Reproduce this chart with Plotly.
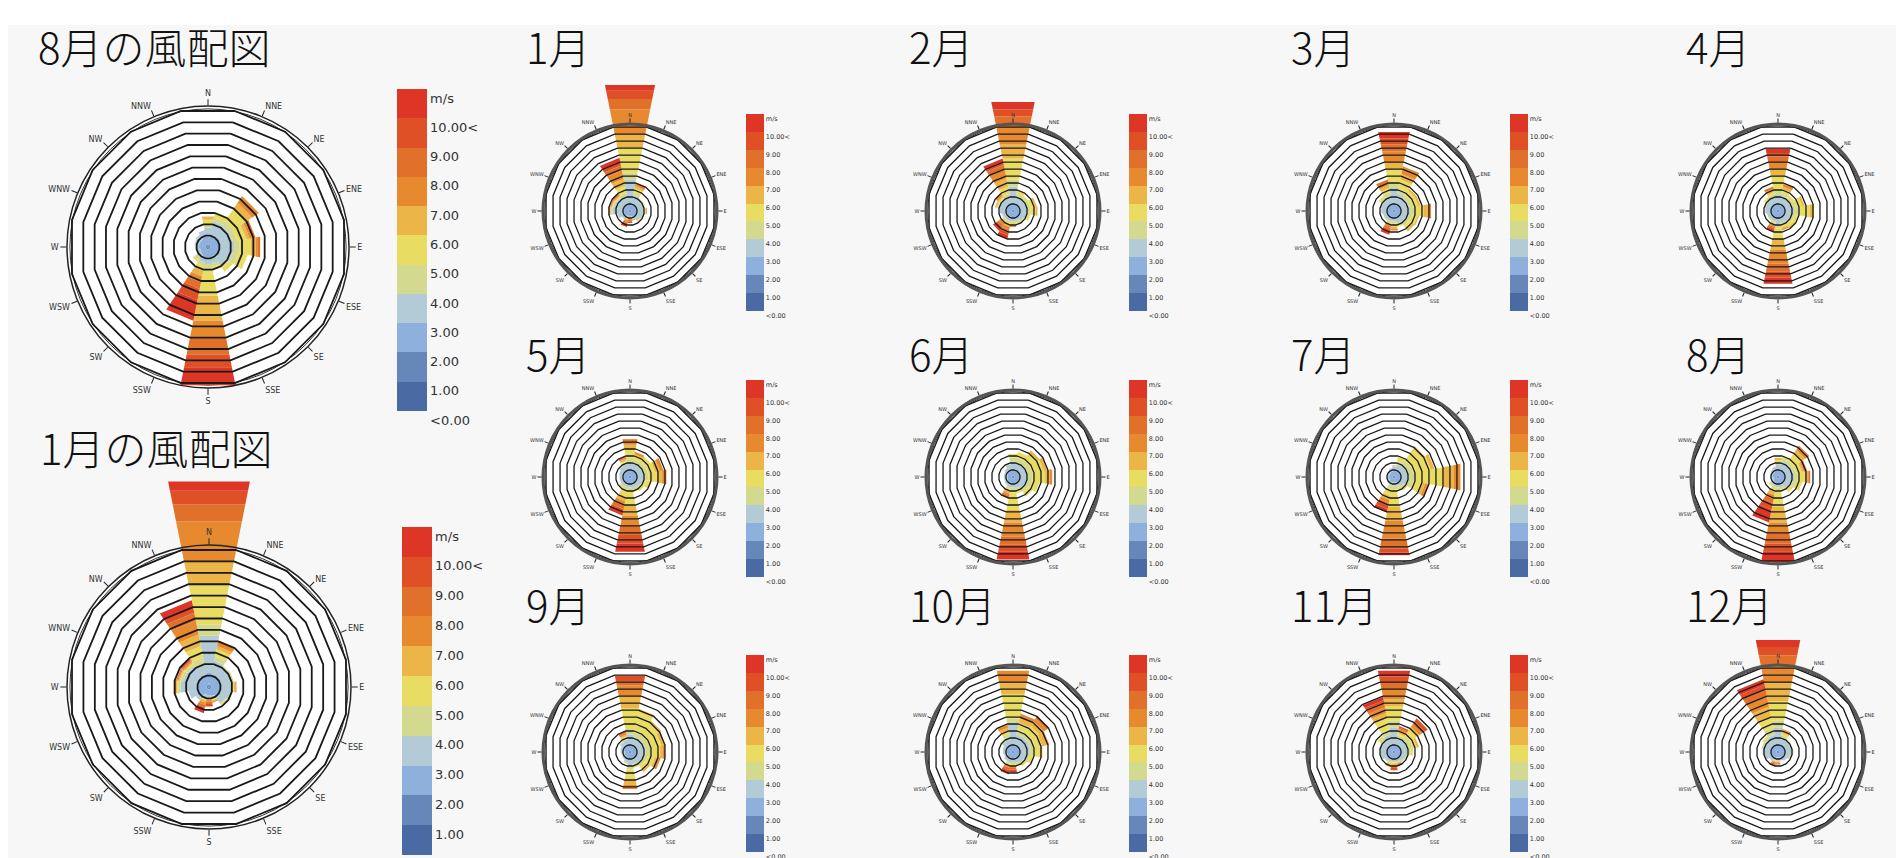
import plotly.graph_objects as go

FIG_W, FIG_H = 1904, 858
PAGE_OFFSET = 8  # the page body shifts the figure by this many pixels

# ---------------- data ----------------
DIRECTIONS = ["N", "NNE", "NE", "ENE", "E", "ESE", "SE", "SSE",
              "S", "SSW", "SW", "WSW", "W", "WNW", "NW", "NNW"]
CARDINALS = ["N", "E", "S", "W"]
SPEED_COLORS = ["#4a6aa3", "#6687ba", "#8eb0dd", "#b3cbd7", "#d3d98f", "#e9dc63",
                "#ebb547", "#e6892f", "#e1702a", "#df5026", "#dd3526"]
SPEED_LABELS = ["<0.00", "1.00", "2.00", "3.00", "4.00", "5.00", "6.00",
                "7.00", "8.00", "9.00", "10.00<", "m/s"]
RING_LEVELS = [1, 2, 3, 4, 5, 6, 7, 8, 9, 10, 11, 12]
R_MAX = 12.2
R_EXT = 19.0
OUTER_RING = 11.95

# frequency per speed class (0-1, 1-2, ... 9-10, 10< m/s), one ring = one unit
JAN = {
    "N": [0.1, 0.2, 1.0, 3.2, 1.0, 3.5, 2.0, 3.5, 1.5, 1.2, 0.8],
    "NNE": [0.05, 0.15, 0.8, 1.3, 0.4, 0.6, 0.3, 0.5],
    "NE": [0.05, 0.15, 0.8, 1.0, 0.2],
    "ENE": [0.05, 0.15, 0.8, 1.0, 0.1, 0.1],
    "E": [0.05, 0.15, 0.8, 1.0, 0.1, 0.1, 0.1, 0.1],
    "ESE": [0.05, 0.15, 0.8, 0.9, 0.2],
    "SE": [0.05, 0.15, 0.7, 0.8, 0.1, 0.1],
    "SSE": [0.05, 0.15, 0.6, 0.3, 0.0, 0.1, 0.1, 0.1],
    "S": [0.05, 0.15, 0.5, 0.2, 0.0, 0.1, 0.1, 0.2, 0.2, 0.2],
    "SSW": [0.05, 0.15, 0.5, 0.3, 0.1, 0.1, 0.2, 0.2, 0.2, 0.2, 0.3],
    "SW": [0.05, 0.15, 0.7, 0.5],
    "WSW": [0.05, 0.15, 0.8, 0.8],
    "W": [0.05, 0.15, 0.9, 1.4, 0.2, 0.1, 0.1, 0.2],
    "WNW": [0.05, 0.15, 0.8, 1.3, 0.2, 0.1, 0.1, 0.1, 0.1],
    "NW": [0.05, 0.15, 0.8, 1.2, 0.2, 0.1, 0.1, 0.1, 0.1, 0.2],
    "NNW": [0.05, 0.15, 0.8, 1.0, 0.6, 1.0, 1.0, 1.2, 0.7, 0.5, 0.6],
}
FEB = {
    "N": [0.05, 0.15, 0.8, 2.5, 1.0, 3.0, 2.0, 2.5, 1.5, 1.0, 1.1],
    "NNE": [0.05, 0.15, 0.8, 1.2, 0.3, 0.4, 0.2],
    "NE": [0.05, 0.15, 0.8, 1.0, 0.3, 0.3],
    "ENE": [0.05, 0.15, 0.8, 1.0, 0.5, 0.6, 0.3],
    "E": [0.05, 0.15, 0.8, 1.0, 0.5, 0.7, 0.3],
    "ESE": [0.05, 0.15, 0.8, 0.9, 0.3, 0.3],
    "SE": [0.05, 0.15, 0.7, 0.8, 0.2, 0.2],
    "SSE": [0.05, 0.15, 0.7, 0.6, 0.2, 0.2, 0.1],
    "S": [0.05, 0.15, 0.7, 0.6, 0.2, 0.2, 0.2, 0.2],
    "SSW": [0.05, 0.15, 0.7, 0.6, 0.2, 0.3, 0.3, 0.4, 0.4, 0.4, 0.5],
    "SW": [0.05, 0.15, 0.7, 0.6, 0.2, 0.2, 0.2, 0.3, 0.3, 0.3, 0.4],
    "WSW": [0.05, 0.15, 0.7, 0.7],
    "W": [0.05, 0.15, 0.8, 0.9],
    "WNW": [0.05, 0.15, 0.8, 1.0, 0.2, 0.2, 0.2],
    "NW": [0.05, 0.15, 0.8, 1.0, 0.2, 0.2, 0.2, 0.2, 0.2],
    "NNW": [0.05, 0.15, 0.8, 1.0, 0.5, 1.0, 1.2, 1.3, 0.6, 0.4, 0.5],
}
MAR = {
    "N": [0.05, 0.15, 0.8, 2.3, 0.7, 2.0, 1.0, 1.5, 1.0, 0.9, 0.9],
    "NNE": [0.05, 0.15, 0.8, 1.5, 0.7, 1.3, 0.8, 1.1],
    "NE": [0.05, 0.15, 0.8, 1.2, 0.5, 0.8, 0.3],
    "ENE": [0.05, 0.15, 0.8, 1.2, 0.5, 0.8, 0.3],
    "E": [0.05, 0.15, 0.8, 1.3, 0.7, 1.2, 0.6, 0.5],
    "ESE": [0.05, 0.15, 0.8, 1.1, 0.5, 0.8, 0.2],
    "SE": [0.05, 0.15, 0.8, 1.0, 0.5, 0.7, 0.3],
    "SSE": [0.05, 0.15, 0.7, 0.8, 0.3, 0.3],
    "S": [0.05, 0.15, 0.7, 0.6, 0.3, 0.4, 0.3, 0.3],
    "SSW": [0.05, 0.15, 0.7, 0.6, 0.2, 0.2, 0.2, 0.3, 0.3, 0.3, 0.4],
    "SW": [0.05, 0.15, 0.7, 0.6, 0.2],
    "WSW": [0.05, 0.15, 0.7, 0.7],
    "W": [0.05, 0.15, 0.8, 0.8],
    "WNW": [0.05, 0.15, 0.8, 0.9, 0.2],
    "NW": [0.05, 0.15, 0.8, 1.0, 0.3, 0.3],
    "NNW": [0.05, 0.15, 0.8, 1.2, 0.5, 0.6, 0.4, 0.3, 0.5],
}
APR = {
    "N": [0.05, 0.15, 0.8, 1.3, 0.7, 2.0, 1.0, 1.0, 0.8, 0.5, 0.6],
    "NNE": [0.05, 0.15, 0.8, 1.2, 0.4, 0.5, 0.4, 0.5],
    "NE": [0.05, 0.15, 0.8, 1.0, 0.3, 0.4],
    "ENE": [0.05, 0.15, 0.8, 1.1, 0.5, 0.9, 0.3],
    "E": [0.05, 0.15, 0.8, 1.3, 0.7, 1.5, 0.65],
    "ESE": [0.05, 0.15, 0.8, 1.0, 0.4, 0.6],
    "SE": [0.05, 0.15, 0.8, 0.9, 0.3, 0.5, 0.3],
    "SSE": [0.05, 0.15, 0.7, 0.8, 0.3, 0.4, 0.2, 0.2],
    "S": [0.05, 0.15, 0.8, 1.0, 0.5, 1.5, 1.5, 2.0, 1.2, 0.8, 0.9],
    "SSW": [0.05, 0.15, 0.7, 0.6, 0.2, 0.2, 0.2, 0.2, 0.2, 0.2, 0.3],
    "SW": [0.05, 0.15, 0.7, 0.6, 0.2],
    "WSW": [0.05, 0.15, 0.7, 0.7],
    "W": [0.05, 0.15, 0.8, 0.8],
    "WNW": [0.05, 0.15, 0.8, 0.8, 0.2],
    "NW": [0.05, 0.15, 0.8, 0.9, 0.3, 0.2],
    "NNW": [0.05, 0.15, 0.8, 1.0, 0.4, 0.3, 0.3, 0.2, 0.3],
}
MAY = {
    "N": [0.05, 0.15, 0.8, 1.0, 0.8, 1.2, 0.6, 0.4, 0.4],
    "NNE": [0.05, 0.15, 0.8, 1.0, 0.5, 0.5, 0.3, 0.3],
    "NE": [0.05, 0.15, 0.8, 1.0, 0.6, 0.9],
    "ENE": [0.05, 0.15, 0.8, 1.0, 0.6, 1.0, 0.7, 0.5],
    "E": [0.05, 0.15, 0.8, 1.0, 0.6, 1.2, 0.8, 0.6],
    "ESE": [0.05, 0.15, 0.8, 0.9, 0.4, 0.5, 0.2],
    "SE": [0.05, 0.15, 0.7, 0.8, 0.3, 0.4],
    "SSE": [0.05, 0.15, 0.7, 0.7, 0.3, 0.3],
    "S": [0.05, 0.15, 0.7, 0.6, 0.5, 2.0, 1.5, 1.5, 1.3, 1.2, 1.2],
    "SSW": [0.05, 0.15, 0.7, 0.6, 0.5, 0.8, 0.7, 0.6, 0.5, 0.4, 0.5],
    "SW": [0.05, 0.15, 0.7, 0.6, 0.2, 0.2],
    "WSW": [0.05, 0.15, 0.7, 0.6],
    "W": [0.05, 0.15, 0.7, 0.6],
    "WNW": [0.05, 0.15, 0.7, 0.7],
    "NW": [0.05, 0.15, 0.8, 0.8, 0.2],
    "NNW": [0.05, 0.15, 0.8, 0.9, 0.3, 0.2, 0.2, 0.2, 0.2],
}
JUN = {
    "N": [0.05, 0.15, 0.8, 1.2, 0.6, 0.5],
    "NNE": [0.05, 0.15, 0.8, 1.0, 0.7, 0.9],
    "NE": [0.05, 0.15, 0.8, 1.0, 0.8, 1.3, 0.4],
    "ENE": [0.05, 0.15, 0.8, 1.0, 0.8, 1.6, 0.6],
    "E": [0.05, 0.15, 0.8, 1.0, 0.8, 1.8, 0.6, 0.4],
    "ESE": [0.05, 0.15, 0.8, 1.0, 0.8, 1.0],
    "SE": [0.05, 0.15, 0.8, 0.9, 0.6, 0.8],
    "SSE": [0.05, 0.15, 0.7, 0.7, 0.4, 0.4],
    "S": [0.05, 0.15, 0.7, 0.6, 0.7, 2.5, 1.8, 2.0, 1.2, 1.0, 1.1],
    "SSW": [0.05, 0.15, 0.7, 0.6, 0.3, 0.3, 0.3, 0.2, 0.2, 0.3],
    "SW": [0.05, 0.15, 0.7, 0.5],
    "WSW": [0.05, 0.15, 0.6, 0.5],
    "W": [0.05, 0.15, 0.6, 0.5],
    "WNW": [0.05, 0.15, 0.6, 0.5],
    "NW": [0.05, 0.15, 0.7, 0.6],
    "NNW": [0.05, 0.15, 0.8, 0.8, 0.2],
}
JUL = {
    "N": [0.05, 0.15, 0.7, 0.6, 0.2],
    "NNE": [0.05, 0.15, 0.8, 0.8, 0.5, 0.6],
    "NE": [0.05, 0.15, 0.8, 1.0, 0.8, 2.0, 0.4],
    "ENE": [0.05, 0.15, 0.8, 1.0, 0.8, 2.5, 0.5],
    "E": [0.05, 0.15, 0.8, 1.0, 1.0, 4.0, 1.5, 1.0],
    "ESE": [0.05, 0.15, 0.8, 1.0, 0.8, 1.3, 0.4, 0.3, 0.3],
    "SE": [0.05, 0.15, 0.7, 0.7, 0.3, 0.4],
    "SSE": [0.05, 0.15, 0.6, 0.5, 0.3, 0.3],
    "S": [0.05, 0.15, 0.6, 0.4, 0.6, 2.5, 2.0, 2.5, 1.4, 0.6, 0.4],
    "SSW": [0.05, 0.15, 0.6, 0.4, 0.5, 1.0, 0.6, 0.4, 0.4, 0.5, 0.5],
    "SW": [0.05, 0.15, 0.6, 0.4],
    "WSW": [0.05, 0.15, 0.5, 0.3],
    "W": [0.05, 0.15, 0.5, 0.3],
    "WNW": [0.05, 0.15, 0.5, 0.3],
    "NW": [0.05, 0.15, 0.5, 0.4],
    "NNW": [0.05, 0.15, 0.6, 0.5],
}
AUG = {
    "N": [0.05, 0.15, 0.7, 0.8, 0.3, 0.4, 0.3],
    "NNE": [0.05, 0.15, 0.8, 1.3, 0.3, 0.5],
    "NE": [0.05, 0.15, 0.8, 1.2, 0.5, 1.3, 0.6, 0.7],
    "ENE": [0.05, 0.15, 0.8, 1.2, 0.4, 0.8, 0.3, 0.2, 0.3],
    "E": [0.05, 0.15, 0.8, 1.3, 0.5, 1.0, 0.4, 0.2, 0.2],
    "ESE": [0.05, 0.15, 0.8, 1.2, 0.5, 0.8],
    "SE": [0.05, 0.15, 0.7, 1.0, 0.3, 0.4],
    "SSE": [0.05, 0.15, 0.7, 0.6, 0.3, 0.3],
    "S": [0.05, 0.15, 0.7, 0.6, 0.6, 2.2, 2.2, 1.5, 1.5, 1.1, 1.6],
    "SSW": [0.05, 0.15, 0.7, 0.5, 0.3, 0.4, 0.5, 0.5, 0.6, 1.0, 1.8],
    "SW": [0.05, 0.15, 0.6, 0.4, 0.2, 0.2],
    "WSW": [0.05, 0.15, 0.5, 0.3],
    "W": [0.05, 0.15, 0.6, 0.3],
    "WNW": [0.05, 0.15, 0.6, 0.4],
    "NW": [0.05, 0.15, 0.6, 0.5],
    "NNW": [0.05, 0.15, 0.7, 0.6],
}
SEP = {
    "N": [0.05, 0.15, 0.8, 1.5, 0.8, 3.0, 1.7, 1.5, 0.6, 0.8],
    "NNE": [0.05, 0.15, 0.8, 1.2, 0.8, 2.8, 0.4],
    "NE": [0.05, 0.15, 0.8, 1.2, 0.8, 2.0, 0.3],
    "ENE": [0.05, 0.15, 0.8, 1.2, 0.8, 1.5, 0.4, 0.2],
    "E": [0.05, 0.15, 0.8, 1.2, 0.8, 1.3, 0.4, 0.3],
    "ESE": [0.05, 0.15, 0.8, 1.0, 0.6, 1.0, 0.4, 0.4],
    "SE": [0.05, 0.15, 0.8, 1.0, 0.5, 0.6, 0.3],
    "SSE": [0.05, 0.15, 0.7, 0.8, 0.3, 0.3],
    "S": [0.05, 0.15, 0.8, 1.0, 0.5, 1.5, 0.7, 0.6],
    "SSW": [0.05, 0.15, 0.7, 0.6, 0.2],
    "SW": [0.05, 0.15, 0.6, 0.5],
    "WSW": [0.05, 0.15, 0.6, 0.4],
    "W": [0.05, 0.15, 0.6, 0.5],
    "WNW": [0.05, 0.15, 0.7, 0.5],
    "NW": [0.05, 0.15, 0.7, 0.7, 0.2],
    "NNW": [0.05, 0.15, 0.8, 0.8, 0.3, 0.2, 0.2, 0.2, 0.3],
}
OCT = {
    "N": [0.05, 0.15, 0.8, 3.0, 0.8, 3.5, 1.5, 1.8],
    "NNE": [0.05, 0.15, 0.8, 1.5, 0.7, 1.0, 0.6, 0.7],
    "NE": [0.05, 0.15, 0.8, 1.5, 0.7, 1.2, 0.8, 0.5, 0.4],
    "ENE": [0.05, 0.15, 0.8, 1.5, 0.7, 1.0, 0.6, 0.4],
    "E": [0.05, 0.15, 0.8, 1.3, 0.6, 0.9, 0.4],
    "ESE": [0.05, 0.15, 0.8, 1.0, 0.5, 0.5],
    "SE": [0.05, 0.15, 0.7, 0.9, 0.3, 0.3],
    "SSE": [0.05, 0.15, 0.7, 0.7, 0.3, 0.2],
    "S": [0.05, 0.15, 0.7, 0.6, 0.2, 0.2, 0.2, 0.2, 0.2, 0.2, 0.2],
    "SSW": [0.05, 0.15, 0.7, 0.6, 0.2, 0.2, 0.2, 0.2, 0.3, 0.3, 0.3],
    "SW": [0.05, 0.15, 0.7, 0.6],
    "WSW": [0.05, 0.15, 0.6, 0.5],
    "W": [0.05, 0.15, 0.7, 0.5],
    "WNW": [0.05, 0.15, 0.7, 0.6],
    "NW": [0.05, 0.15, 0.8, 0.8, 0.2, 0.2],
    "NNW": [0.05, 0.15, 0.8, 1.2, 0.4, 0.4, 0.5, 0.4],
}
NOV = {
    "N": [0.05, 0.15, 0.8, 2.5, 1.0, 2.0, 1.0, 1.5, 1.0, 0.8, 0.8],
    "NNE": [0.05, 0.15, 0.8, 1.0, 0.4, 0.3, 0.3, 0.3, 0.2, 0.2],
    "NE": [0.05, 0.15, 0.8, 1.0, 0.8, 1.0, 0.5, 0.4, 0.5, 0.5],
    "ENE": [0.05, 0.15, 0.8, 1.0, 0.6, 0.7, 0.3],
    "E": [0.05, 0.15, 0.8, 0.9, 0.5, 0.3],
    "ESE": [0.05, 0.15, 0.8, 0.8, 0.3],
    "SE": [0.05, 0.15, 0.7, 0.7, 0.2],
    "SSE": [0.05, 0.15, 0.7, 0.5, 0.1, 0.1, 0.1, 0.1, 0.1, 0.2],
    "S": [0.05, 0.15, 0.7, 0.4, 0.2, 0.2, 0.2, 0.2, 0.2, 0.3],
    "SSW": [0.05, 0.15, 0.7, 0.5, 0.2, 0.2, 0.2, 0.2],
    "SW": [0.05, 0.15, 0.7, 0.7],
    "WSW": [0.05, 0.15, 0.8, 0.9],
    "W": [0.05, 0.15, 0.8, 1.0],
    "WNW": [0.05, 0.15, 0.8, 1.0, 0.2],
    "NW": [0.05, 0.15, 0.8, 1.1, 0.4, 0.3],
    "NNW": [0.05, 0.15, 0.8, 1.5, 0.8, 1.5, 0.8, 0.8, 0.5, 0.5, 0.5],
}
DEC = {
    "N": [0.05, 0.15, 0.8, 2.5, 1.0, 2.8, 2.5, 2.5, 1.5, 1.2, 1.0],
    "NNE": [0.05, 0.15, 0.8, 1.0, 0.4, 0.3, 0.3, 0.3],
    "NE": [0.05, 0.15, 0.8, 0.9, 0.3],
    "ENE": [0.05, 0.15, 0.8, 0.9, 0.2],
    "E": [0.05, 0.15, 0.8, 0.9, 0.3],
    "ESE": [0.05, 0.15, 0.7, 0.8, 0.2],
    "SE": [0.05, 0.15, 0.7, 0.6],
    "SSE": [0.05, 0.15, 0.6, 0.5],
    "S": [0.05, 0.15, 0.6, 0.4, 0.1, 0.1, 0.1, 0.1, 0.2],
    "SSW": [0.05, 0.15, 0.6, 0.4, 0.1, 0.1, 0.1, 0.2, 0.2, 0.2],
    "SW": [0.05, 0.15, 0.7, 0.6],
    "WSW": [0.05, 0.15, 0.8, 1.0],
    "W": [0.05, 0.15, 0.8, 1.2],
    "WNW": [0.05, 0.15, 0.8, 1.2, 0.2],
    "NW": [0.05, 0.15, 0.8, 1.2, 0.3, 0.2],
    "NNW": [0.05, 0.15, 0.8, 1.5, 1.0, 1.5, 1.5, 1.5, 1.0, 0.6, 0.8],
}

MONTHS = ["1月", "2月", "3月", "4月", "5月", "6月",
          "7月", "8月", "9月", "10月", "11月", "12月"]
MONTH_DATA = dict(zip(MONTHS, [JAN, FEB, MAR, APR, MAY, JUN,
                               JUL, AUG, SEP, OCT, NOV, DEC]))

# ---------------- layout geometry (pixels in the final picture) ----------------
STEP = 360.0 / len(DIRECTIONS)
HALF = STEP / 2.0

BIG_PANELS = [
    # title, month, title x, title y, centre x, centre y, radius, colorbar (x, y, len)
    ("8月の風配図", "8月", 36, 45, 208, 247, 141, (397, 89, 322)),
    ("1月の風配図", "1月", 38, 446, 209, 687, 142, (402, 527, 328)),
]
COL_X = [630, 1013, 1394, 1778]
CB_DX = [116, 116, 116, 119]
ROW_Y = [211, 477, 752]
TITLE_X = [524, 907, 1289, 1684]
TITLE_Y = [45, 352, 603]
SMALL_R = 87


def fx(px):
    return (px - PAGE_OFFSET) / FIG_W


def fy(py):
    return 1 - (py - PAGE_OFFSET) / FIG_H


discrete_scale = []
n_cls = len(SPEED_COLORS)
for k, col in enumerate(SPEED_COLORS):
    discrete_scale.append([k / n_cls, col])
    discrete_scale.append([(k + 1) / n_cls, col])

fig = go.Figure()
annotations = []
polar_layouts = {}
counter = [0]


def next_sub():
    counter[0] += 1
    return "polar" if counter[0] == 1 else "polar%d" % counter[0]


def add_segments(sub, data):
    for c, color in enumerate(SPEED_COLORS):
        rr, tt = [], []
        for i, d in enumerate(DIRECTIONS):
            vals = data[d]
            if c < len(vals) and vals[c] > 0:
                r0 = sum(vals[:c])
                r1 = r0 + vals[c]
                a = i * STEP
                rr += [r0, r1, r1, r0, None]
                tt += [a - HALF, a - HALF, a + HALF, a + HALF, a]
        if rr:
            fig.add_trace(go.Scatterpolar(
                r=rr, theta=tt, mode="lines", fill="toself", fillcolor=color,
                line=dict(width=0, color=color),
                hoverinfo="skip", showlegend=False, subplot=sub))


def add_overflow(data, cx, cy, R):
    """Under-layer wedge (around N) that shows bars reaching past the outer circle."""
    if max(sum(v) for v in data.values()) <= R_MAX:
        return
    sub = next_sub()
    add_segments(sub, data)
    R2 = R * R_EXT / R_MAX
    polar_layouts[sub] = dict(
        domain=dict(x=[fx(cx - 0.5 * R2), fx(cx + 0.5 * R2)],
                    y=[fy(cy), fy(cy - R2)]),
        sector=[60, 120],
        bgcolor="rgba(0,0,0,0)",
        radialaxis=dict(range=[0, R_EXT], visible=False, showgrid=False),
        angularaxis=dict(type="linear", thetaunit="degrees", rotation=90,
                         direction="clockwise", visible=False, showgrid=False,
                         showline=False, ticks="", showticklabels=False),
    )


def add_rose(data, cx, cy, R, big, cb, show_cb_labels=True):
    sub = next_sub()
    add_segments(sub, data)
    # polygonal rings drawn above the bars
    rr, tt = [], []
    for lev in RING_LEVELS:
        for k in range(len(DIRECTIONS) + 1):
            rr.append(lev)
            tt.append(k * STEP + HALF)
        rr.append(None)
        tt.append(0)
    fig.add_trace(go.Scatterpolar(
        r=rr, theta=tt, mode="lines",
        line=dict(color="#1a1a1a", width=1.8 if big else 1.3),
        hoverinfo="skip", showlegend=False, subplot=sub))
    # long cardinal ticks
    tick_px = 18 if big else 10
    r_end = R_MAX * (1 + tick_px / R)
    rr, tt = [], []
    for d in CARDINALS:
        a = DIRECTIONS.index(d) * STEP
        rr += [R_MAX, r_end, None]
        tt += [a, a, a]
    fig.add_trace(go.Scatterpolar(
        r=rr, theta=tt, mode="lines", line=dict(color="#222", width=1.2 if big else 1),
        cliponaxis=False, hoverinfo="skip", showlegend=False, subplot=sub))
    # colour legend
    cbx, cby, cblen = cb
    fig.add_trace(go.Scatterpolar(
        r=[0], theta=[0], mode="markers", hoverinfo="skip", showlegend=False,
        subplot=sub,
        marker=dict(size=1, opacity=0, color=[0], cmin=0, cmax=n_cls,
                    colorscale=discrete_scale, showscale=True,
                    colorbar=dict(
                        x=fx(cbx), xanchor="left", y=fy(cby), yanchor="top",
                        len=cblen, lenmode="pixels",
                        thickness=30 if big else 18, thicknessmode="pixels",
                        xpad=0, ypad=0, outlinewidth=0, borderwidth=0,
                        ticks="", tickmode="array",
                        tickvals=list(range(n_cls + 1)), ticktext=SPEED_LABELS,
                        showticklabels=show_cb_labels,
                        ticklabelposition="outside bottom",
                        tickfont=dict(family="DejaVu Sans", size=13 if big else 6.5,
                                      color="#333")))))
    polar_layouts[sub] = dict(
        domain=dict(x=[fx(cx - R), fx(cx + R)], y=[fy(cy + R), fy(cy - R)]),
        bgcolor="white",
        radialaxis=dict(range=[0, R_MAX], visible=True, showline=False,
                        showticklabels=False, ticks="", tickmode="array",
                        tickvals=[OUTER_RING], showgrid=True,
                        gridcolor="#333", gridwidth=1),
        angularaxis=dict(type="linear", thetaunit="degrees", rotation=90,
                         direction="clockwise", tickmode="array",
                         tickvals=[i * STEP for i in range(len(DIRECTIONS))],
                         ticktext=DIRECTIONS, ticks="outside",
                         ticklen=6 if big else 4, tickwidth=1, tickcolor="#222",
                         showline=True, linecolor="#222" if big else "#555",
                         linewidth=1.5 if big else 3, showgrid=False,
                         tickfont=dict(family="DejaVu Sans", size=8 if big else 5,
                                       color="#333")),
    )


def add_title(text, x, y):
    annotations.append(dict(
        text=text, x=fx(x), y=fy(y), xref="paper", yref="paper",
        xanchor="left", yanchor="middle", showarrow=False,
        font=dict(family="Noto Sans CJK JP", size=42, color="#111", weight=300)))


# collect panels
panels = []
for title, month, tx, ty, cx, cy, R, cb in BIG_PANELS:
    panels.append((MONTH_DATA[month], cx, cy, R, True, cb, True))
    add_title(title, tx, ty)
for m, month in enumerate(MONTHS):
    row, col = divmod(m, 4)
    cx, cy = COL_X[col], ROW_Y[row]
    panels.append((MONTH_DATA[month], cx, cy, SMALL_R, False,
                   (cx + CB_DX[col], cy - 97, 197), col < 3))
    add_title(month, TITLE_X[col], TITLE_Y[row])

# overflow under-layers first, then the roses themselves on top
for data, cx, cy, R, big, cb, lab in panels:
    add_overflow(data, cx, cy, R)
for data, cx, cy, R, big, cb, lab in panels:
    add_rose(data, cx, cy, R, big, cb, lab)

fig.update_layout(
    width=FIG_W, height=FIG_H,
    margin=dict(l=0, r=0, t=0, b=0, autoexpand=False),
    paper_bgcolor="#f7f7f7", plot_bgcolor="#f7f7f7",
    showlegend=False,
    annotations=annotations,
    shapes=[dict(type="rect", xref="paper", yref="paper", x0=0, x1=1,
                 y0=fy(25), y1=1, fillcolor="white", line=dict(width=0),
                 layer="below")],
    **polar_layouts,
)

fig.write_html("out.html")
